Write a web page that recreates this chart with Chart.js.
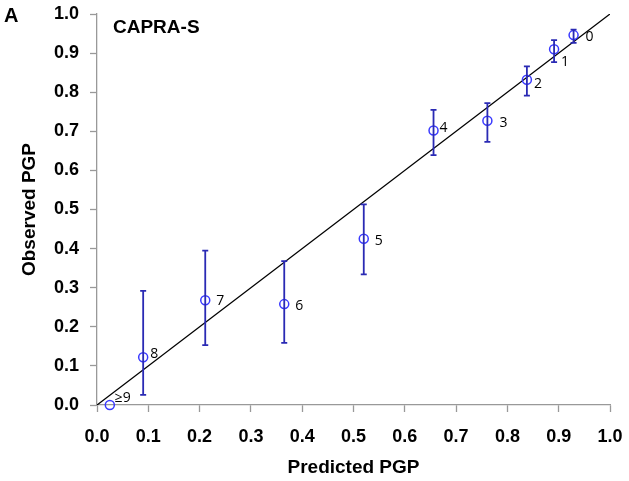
<!DOCTYPE html>
<html>
<head>
<meta charset="utf-8">
<script src="https://cdn.jsdelivr.net/npm/chart.js@4/dist/chart.umd.min.js"></script>
<style>
  html, body { margin: 0; padding: 0; background: #fff; }
  #wrap { width: 629px; height: 481px; position: relative; }
</style>
</head>
<body>
<div id="wrap"><canvas id="c" width="629" height="481"></canvas></div>
<script>
// ---- data ----
const scoreLabels = ["0", "1", "2", "3", "4", "5", "6", "7", "8", "\u22659"];
const predicted   = [0.929, 0.891, 0.838, 0.761, 0.656, 0.520, 0.365, 0.211, 0.090, 0.025];
const observed    = [0.946, 0.910, 0.832, 0.727, 0.702, 0.425, 0.258, 0.268, 0.122, 0.000];
const ciLower     = [0.926, 0.877, 0.791, 0.673, 0.639, 0.334, 0.159, 0.153, 0.026, null];
const ciUpper     = [0.960, 0.933, 0.866, 0.772, 0.755, 0.513, 0.368, 0.395, 0.292, null];
const axisTicks   = [0.0, 0.1, 0.2, 0.3, 0.4, 0.5, 0.6, 0.7, 0.8, 0.9, 1.0];
const identityLine = [{x: 0, y: 0}, {x: 1, y: 1}];

// label offsets (pixels) relative to each point
const labelOffsets = {
  "0": [12, 2], "1": [7, 13], "2": [7, 4], "3": [12, 2], "4": [6, -3],
  "5": [11, 2], "6": [11, 2], "7": [11, 1], "8": [7, -3], "\u22659": [5, -7]
};

const points = predicted.map((p, i) => ({x: p, y: observed[i]}));

const errorBarPlugin = {
  id: 'errorBars',
  afterDatasetsDraw(chart) {
    const ctx = chart.ctx;
    const xs = chart.scales.x, ys = chart.scales.y;
    ctx.save();
    ctx.strokeStyle = '#2a2ab4';
    ctx.lineWidth = 1.8;
    for (let i = 0; i < predicted.length; i++) {
      if (ciLower[i] == null) continue;
      const px = xs.getPixelForValue(predicted[i]);
      const yl = ys.getPixelForValue(ciLower[i]);
      const yu = ys.getPixelForValue(ciUpper[i]);
      ctx.beginPath();
      ctx.moveTo(px, yl); ctx.lineTo(px, yu);
      ctx.moveTo(px - 3, yl); ctx.lineTo(px + 3, yl);
      ctx.moveTo(px - 3, yu); ctx.lineTo(px + 3, yu);
      ctx.stroke();
    }
    // point labels
    ctx.fillStyle = '#000';
    ctx.font = '14px "Open Sans", "DejaVu Sans", sans-serif';
    ctx.textAlign = 'left';
    ctx.textBaseline = 'middle';
    for (let i = 0; i < predicted.length; i++) {
      const px = xs.getPixelForValue(predicted[i]);
      const py = ys.getPixelForValue(observed[i]);
      const off = labelOffsets[scoreLabels[i]];
      ctx.fillText(scoreLabels[i], px + off[0], py + off[1]);
    }
    // panel text
    const ca = chart.chartArea;
    ctx.font = 'bold 19px "Liberation Sans", Arial, sans-serif';
    ctx.textBaseline = 'alphabetic';
    ctx.fillText('CAPRA-S', ca.left + 16, ca.top + 19);
    ctx.font = 'bold 20px "Liberation Sans", Arial, sans-serif';
    ctx.fillText('A', 4, 22);
    ctx.restore();
  }
};

const tickFont = { family: '"Liberation Sans", Arial, sans-serif', size: 18, weight: 'bold' };
const titleFont = { family: '"Liberation Sans", Arial, sans-serif', size: 19, weight: 'bold' };

new Chart(document.getElementById('c'), {
  type: 'scatter',
  data: {
    datasets: [
      {
        label: 'Identity',
        data: identityLine,
        showLine: true,
        borderColor: '#000',
        borderWidth: 1.3,
        pointRadius: 0,
        pointHoverRadius: 0,
        fill: false,
        order: 2
      },
      {
        label: 'CAPRA-S',
        data: points,
        clip: false,
        pointStyle: 'circle',
        pointRadius: 4.5,
        pointBorderColor: '#3a3aff',
        pointBackgroundColor: 'rgba(0,0,0,0)',
        pointBorderWidth: 1.5,
        borderColor: '#3a3aff',
        backgroundColor: 'rgba(0,0,0,0)',
        order: 1
      }
    ]
  },
  options: {
    responsive: false,
    animation: false,
    devicePixelRatio: 1,
    layout: { padding: { top: 14, right: 19, bottom: 0, left: 0 } },
    plugins: { legend: { display: false }, tooltip: { enabled: false } },
    scales: {
      x: {
        type: 'linear', min: 0, max: 1,
        afterBuildTicks: (s) => { s.ticks = axisTicks.map(v => ({value: v})); },
        afterFit: (s) => { s.height = 76; s.paddingLeft = 0; s.paddingRight = 0; },
        grid: { drawOnChartArea: false, drawTicks: true, tickLength: 7, tickColor: '#999', tickWidth: 1.3 },
        border: { color: '#999', width: 1.3 },
        ticks: { color: '#000', font: tickFont, padding: 14, maxRotation: 0,
                 callback: (v) => Number(v).toFixed(1) },
        title: { display: true, text: 'Predicted PGP', color: '#000', font: titleFont,
                 padding: { top: 0, bottom: 1.6 } }
      },
      y: {
        type: 'linear', min: 0, max: 1,
        afterBuildTicks: (s) => { s.ticks = axisTicks.map(v => ({value: v})); },
        afterFit: (s) => { s.width = 97; s.paddingTop = 0; s.paddingBottom = 0; },
        grid: { drawOnChartArea: false, drawTicks: true, tickLength: 7, tickColor: '#999', tickWidth: 1.3 },
        border: { color: '#999', width: 1.3 },
        ticks: { color: '#000', font: tickFont, padding: 11,
                 callback: (v) => Number(v).toFixed(1) },
        title: { display: true, text: 'Observed PGP', color: '#000', font: titleFont,
                 padding: { top: 18, bottom: 0 } }
      }
    }
  },
  plugins: [errorBarPlugin]
});
</script>
</body>
</html>
